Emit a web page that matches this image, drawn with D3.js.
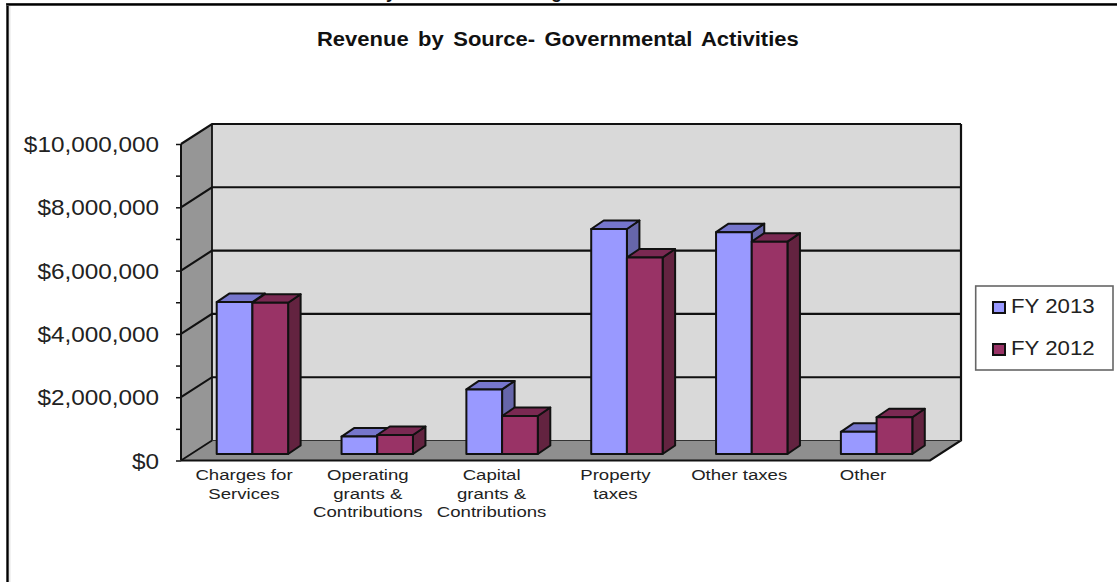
<!DOCTYPE html>
<html>
<head>
<meta charset="utf-8">
<script src="https://cdn.jsdelivr.net/npm/d3@7/dist/d3.min.js"></script>
<style>
html, body { margin: 0; padding: 0; background: #fff; }
svg { display: block; }
text { font-family: "Liberation Sans", Arial, sans-serif; }
</style>
</head>
<body>
<script>
// Revenue per source, in dollars
const categories = [
  ["Charges for", "Services"],
  ["Operating", "grants &", "Contributions"],
  ["Capital", "grants &", "Contributions"],
  ["Property", "taxes"],
  ["Other taxes"],
  ["Other"]
];
const seriesNames = ["FY 2013", "FY 2012"];
const fy2013 = [4800000, 550000, 2040000, 7110000, 7010000, 700000];
const fy2012 = [4780000, 600000, 1200000, 6210000, 6710000, 1160000];
const axisTicks = [0, 1, 2, 3, 4, 5, 6, 7, 8, 9, 10].map(d => d * 1000000);

const fills = [
  { front: "#9999ff", top: "#7676cc", side: "#6666aa" },
  { front: "#993366", top: "#7a2952", side: "#632340" }
];

const width = 1117, height = 582;
const svg = d3.select("body").append("svg").attr("width", width).attr("height", height);

// Layout of the pseudo-3D box
const plot = { left: 181, right: 930, top: 144, bottom: 460.5 };
const depth = { x: 31, y: -20 };    // floor and wall offset
const barInset = { x: 9, y: -6.5 }; // bars stand slightly behind the front edge
const barDepth = { x: 12.5, y: -8.5 };

const y = d3.scaleLinear().domain([0, 10000000]).range([plot.bottom, plot.top]);
const x0 = d3.scaleBand().domain(d3.range(categories.length))
  .range([plot.left, plot.right]).paddingInner(0.428).paddingOuter(0.214);
const x1 = d3.scaleBand().domain([0, 1]).range([0, x0.bandwidth()]);
// Category captions sit on a slightly tighter pitch than the bars
const xLabel = d3.scalePoint().domain(d3.range(categories.length)).range([244, 863]);

const poly = pts => pts.map(p => p.join(",")).join(" ");
const ink = "#111";

// Page frame: top and left rules, with their soft grey edges
svg.append("rect").attr("x", 8.5).attr("y", 6).attr("width", 2).attr("height", height).attr("fill", "#e6e6e6");
svg.append("rect").attr("x", 6.3).attr("y", 3).attr("width", 2.4).attr("height", height).attr("fill", "#000");
svg.append("rect").attr("x", 6.3).attr("y", 3).attr("width", width).attr("height", 3).attr("fill", "#777");
svg.append("rect").attr("x", 6.3).attr("y", 3.4).attr("width", width).attr("height", 2).attr("fill", "#000");

// Tails of the heading that runs off the top of the page
const clipped = svg.append("g").attr("font-weight", "bold").attr("font-size", 18).attr("fill", "#111");
clipped.append("text").attr("x", 386).attr("y", -2.5).text("y");
clipped.append("text").attr("x", 551).attr("y", -2.5).text("g");

// Title
svg.append("text")
  .attr("transform", "translate(317,46) scale(1.128,1)")
  .attr("font-size", 19.5).attr("font-weight", "bold").attr("word-spacing", 3).attr("fill", "#111")
  .text("Revenue by Source- Governmental Activities");

const yTop = y(10000000), yBase = y(0);

// Back wall
svg.append("polygon")
  .attr("points", poly([[plot.left + depth.x, yTop + depth.y], [plot.right + depth.x, yTop + depth.y],
                        [plot.right + depth.x, yBase + depth.y], [plot.left + depth.x, yBase + depth.y]]))
  .attr("fill", "#d9d9d9");

// Left wall
svg.append("polygon")
  .attr("points", poly([[plot.left, yTop], [plot.left + depth.x, yTop + depth.y],
                        [plot.left + depth.x, yBase + depth.y], [plot.left, yBase]]))
  .attr("fill", "#969696");

// Floor
svg.append("polygon")
  .attr("points", poly([[plot.left, yBase], [plot.left + depth.x, yBase + depth.y],
                        [plot.right + depth.x, yBase + depth.y], [plot.right, yBase]]))
  .attr("fill", "#8f8f8f");

// Gridlines run across the back wall and fold down the left wall
const gridValues = axisTicks.filter(d => d % 2000000 === 0 && d > 0);
svg.append("g").selectAll("polyline").data(gridValues).join("polyline")
  .attr("points", d => poly([[plot.left, y(d)], [plot.left + depth.x, y(d) + depth.y], [plot.right + depth.x, y(d) + depth.y]]))
  .attr("fill", "none").attr("stroke", ink).attr("stroke-width", 2.1);

// Box outline
svg.append("polyline")
  .attr("points", poly([[plot.left, yBase], [plot.left + depth.x, yBase + depth.y], [plot.left + depth.x, yTop + depth.y]]))
  .attr("fill", "none").attr("stroke", ink).attr("stroke-width", 1.8);
svg.append("polyline")
  .attr("points", poly([[plot.right + depth.x, yTop + depth.y], [plot.right + depth.x, yBase + depth.y], [plot.right, yBase], [plot.left, yBase]]))
  .attr("fill", "none").attr("stroke", ink).attr("stroke-width", 2.2);
svg.append("line")
  .attr("x1", plot.left + depth.x).attr("x2", plot.right + depth.x)
  .attr("y1", yBase + depth.y).attr("y2", yBase + depth.y)
  .attr("stroke", "#333").attr("stroke-width", 1);

// Value axis
const axis = svg.append("g").attr("transform", `translate(${plot.left},0)`)
  .call(d3.axisLeft(y).tickValues(axisTicks).tickSize(5)
    .tickFormat(d => d % 2000000 === 0 ? d3.format("$,")(d) : ""));
axis.selectAll(".tick line").attr("stroke", ink).attr("stroke-width", 1.5);
axis.select(".domain").attr("stroke", ink).attr("stroke-width", 2).attr("d", `M0,${yTop}V${yBase}`);
axis.selectAll(".tick text")
  .attr("x", null).attr("dy", null)
  .attr("transform", "translate(-22,7.5) scale(1.105,1)")
  .attr("font-size", 22).attr("font-family", "Liberation Sans, Arial, sans-serif").attr("fill", "#222");

// Bars, drawn series by series so each front face overlaps its neighbour's side
[fy2013, fy2012].forEach((values, s) => {
  const group = svg.append("g");
  const bars = group.selectAll("g").data(values).join("g");
  const left = (d, i) => x0(i) + x1(s) + barInset.x;
  const right = (d, i) => left(d, i) + x1.bandwidth();
  const bottom = yBase + barInset.y;
  const top = d => bottom - (yBase - y(d));

  const styled = sel => sel.attr("stroke", ink).attr("stroke-width", 2).attr("stroke-linejoin", "round");

  styled(bars.append("polygon")
    .attr("points", (d, i) => poly([[right(d, i), top(d)], [right(d, i) + barDepth.x, top(d) + barDepth.y],
                                    [right(d, i) + barDepth.x, bottom + barDepth.y], [right(d, i), bottom]]))
    .attr("fill", fills[s].side));
  styled(bars.append("polygon")
    .attr("points", (d, i) => poly([[left(d, i), top(d)], [left(d, i) + barDepth.x, top(d) + barDepth.y],
                                    [right(d, i) + barDepth.x, top(d) + barDepth.y], [right(d, i), top(d)]]))
    .attr("fill", fills[s].top));
  styled(bars.append("rect")
    .attr("x", left).attr("y", top)
    .attr("width", x1.bandwidth()).attr("height", d => bottom - top(d))
    .attr("fill", fills[s].front));
});

// Category labels
const labels = svg.append("g").selectAll("g").data(categories).join("g")
  .attr("transform", (d, i) => `translate(${xLabel(i)},0)`);
labels.selectAll("text").data(d => d).join("text")
  .attr("text-anchor", "middle")
  .attr("transform", (d, i) => `translate(0,${480 + i * 18.5}) scale(1.2,1)`)
  .attr("font-size", 15.5).attr("fill", "#222")
  .text(d => d);

// Legend
const legend = svg.append("g");
legend.append("rect").attr("x", 975.7).attr("y", 286).attr("width", 137.3).attr("height", 84)
  .attr("fill", "#fff").attr("stroke", "#666").attr("stroke-width", 1.6);
const rows = legend.selectAll("g").data(seriesNames).join("g")
  .attr("transform", (d, i) => `translate(0,${i * 42})`);
rows.append("rect").attr("x", 993).attr("y", 302).attr("width", 12).attr("height", 11)
  .attr("fill", (d, i) => fills[i].front).attr("stroke", ink).attr("stroke-width", 2);
rows.append("text").attr("transform", "translate(1011,313) scale(1.06,1)")
  .attr("font-size", 21).attr("fill", "#222").text(d => d);
</script>
</body>
</html>
